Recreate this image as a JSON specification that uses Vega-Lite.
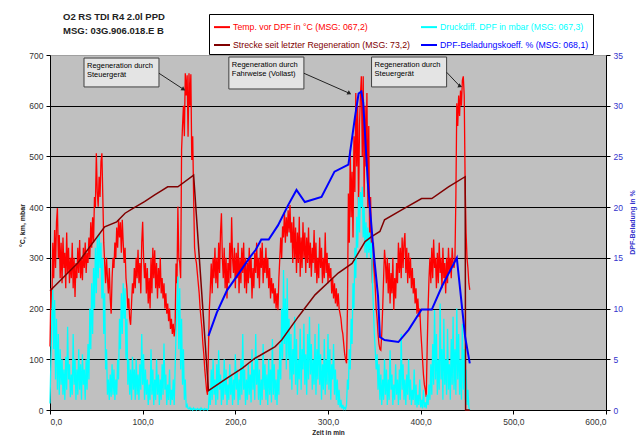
{
"$schema": "https://vega.github.io/schema/vega-lite/v6.json",
"width": 556, "height": 355,
"autosize": {"type": "none"},
"padding": {"left": 50, "top": 55, "right": 34, "bottom": 33},
"background": "white",
"config": {
 "view": {"fill": "#C0C0C0", "stroke": "#A0A0A0", "strokeWidth": 1},
 "font": "Liberation Sans",
 "axis": {"labelFont": "Liberation Sans", "titleFont": "Liberation Sans", "domainColor": "black", "tickColor": "black", "tickSize": 4, "labelFontSize": 8.5, "labelColor": "#333333", "titleFontSize": 7, "titleFontWeight": "bold", "titleColor": "#222222"}
},
"title": {"text": ["O2 RS TDI  R4 2.0l PPD", "MSG:  03G.906.018.E B"], "anchor": "start", "frame": "group", "dx": 13, "offset": -22, "fontSize": 9.5, "fontWeight": "bold", "lineHeight": 14, "color": "#222222", "font": "Liberation Sans"},
"datasets": {
 "temp": [{"t":0,"v":125},{"t":1,"v":240},{"t":2,"v":200},{"t":3,"v":330},{"t":4,"v":260},{"t":5,"v":355},{"t":6,"v":280},{"t":7,"v":370},{"t":8,"v":398},{"t":9,"v":300},{"t":10,"v":345},{"t":11,"v":260},{"t":12,"v":330},{"t":13,"v":250},{"t":14,"v":340},{"t":15,"v":280},{"t":16,"v":310},{"t":17,"v":240},{"t":18,"v":350},{"t":19,"v":270},{"t":20,"v":320},{"t":21,"v":250},{"t":22,"v":300},{"t":23,"v":260},{"t":24,"v":330},{"t":25,"v":240},{"t":26,"v":300},{"t":27,"v":223},{"t":28,"v":290},{"t":29,"v":260},{"t":30,"v":320},{"t":31,"v":270},{"t":32,"v":335},{"t":33,"v":260},{"t":34,"v":300},{"t":35,"v":256},{"t":36,"v":320},{"t":37,"v":280},{"t":38,"v":330},{"t":39,"v":270},{"t":40,"v":310},{"t":41,"v":290},{"t":42,"v":340},{"t":43,"v":300},{"t":44,"v":370},{"t":45,"v":320},{"t":46,"v":380},{"t":47,"v":330},{"t":48,"v":420},{"t":49,"v":400},{"t":50,"v":506},{"t":51,"v":430},{"t":52,"v":401},{"t":53,"v":460},{"t":54,"v":420},{"t":55,"v":490},{"t":56,"v":506},{"t":57,"v":420},{"t":58,"v":330},{"t":59,"v":290},{"t":60,"v":250},{"t":61,"v":300},{"t":62,"v":260},{"t":63,"v":230},{"t":64,"v":280},{"t":65,"v":220},{"t":66,"v":190},{"t":67,"v":260},{"t":68,"v":300},{"t":69,"v":280},{"t":70,"v":330},{"t":71,"v":300},{"t":72,"v":360},{"t":73,"v":320},{"t":74,"v":375},{"t":75,"v":340},{"t":76,"v":370},{"t":77,"v":310},{"t":78,"v":375},{"t":79,"v":330},{"t":80,"v":290},{"t":81,"v":320},{"t":82,"v":260},{"t":83,"v":240},{"t":84,"v":200},{"t":85,"v":220},{"t":86,"v":180},{"t":87,"v":168},{"t":88,"v":210},{"t":89,"v":250},{"t":90,"v":230},{"t":91,"v":280},{"t":92,"v":240},{"t":93,"v":300},{"t":94,"v":260},{"t":95,"v":316},{"t":96,"v":250},{"t":97,"v":290},{"t":98,"v":230},{"t":99,"v":330},{"t":100,"v":371},{"t":101,"v":300},{"t":102,"v":260},{"t":103,"v":290},{"t":104,"v":230},{"t":105,"v":280},{"t":106,"v":210},{"t":107,"v":260},{"t":108,"v":200},{"t":109,"v":300},{"t":110,"v":230},{"t":111,"v":320},{"t":112,"v":260},{"t":113,"v":315},{"t":114,"v":240},{"t":115,"v":290},{"t":116,"v":220},{"t":117,"v":280},{"t":118,"v":240},{"t":119,"v":300},{"t":120,"v":230},{"t":121,"v":260},{"t":122,"v":220},{"t":123,"v":250},{"t":124,"v":200},{"t":125,"v":230},{"t":126,"v":190},{"t":127,"v":210},{"t":128,"v":175},{"t":129,"v":200},{"t":130,"v":160},{"t":131,"v":180},{"t":132,"v":150},{"t":133,"v":170},{"t":134,"v":145},{"t":135,"v":160},{"t":136,"v":289},{"t":137,"v":250},{"t":138,"v":401},{"t":139,"v":300},{"t":140,"v":290},{"t":141,"v":260},{"t":142,"v":513},{"t":143,"v":560},{"t":144,"v":600},{"t":145,"v":540},{"t":146,"v":664},{"t":147,"v":620},{"t":148,"v":660},{"t":149,"v":539},{"t":150,"v":664},{"t":151,"v":600},{"t":152,"v":662},{"t":153,"v":493},{"t":154,"v":540},{"t":155,"v":420},{"t":156,"v":320},{"t":157,"v":300},{"t":158,"v":290},{"t":159,"v":270},{"t":160,"v":250},{"t":161,"v":230},{"t":162,"v":200},{"t":163,"v":180},{"t":164,"v":160},{"t":165,"v":130},{"t":166,"v":110},{"t":167,"v":80},{"t":168,"v":60},{"t":169,"v":39},{"t":170,"v":30},{"t":171,"v":120},{"t":172,"v":200},{"t":173,"v":240},{"t":174,"v":289},{"t":175,"v":230},{"t":176,"v":300},{"t":177,"v":260},{"t":178,"v":320},{"t":179,"v":250},{"t":180,"v":300},{"t":181,"v":240},{"t":182,"v":330},{"t":183,"v":270},{"t":184,"v":350},{"t":185,"v":388},{"t":186,"v":300},{"t":187,"v":260},{"t":188,"v":320},{"t":189,"v":240},{"t":190,"v":300},{"t":191,"v":220},{"t":192,"v":290},{"t":193,"v":250},{"t":194,"v":330},{"t":195,"v":260},{"t":196,"v":380},{"t":197,"v":300},{"t":198,"v":270},{"t":199,"v":320},{"t":200,"v":240},{"t":201,"v":310},{"t":202,"v":260},{"t":203,"v":330},{"t":204,"v":230},{"t":205,"v":300},{"t":206,"v":250},{"t":207,"v":320},{"t":208,"v":270},{"t":209,"v":330},{"t":210,"v":240},{"t":211,"v":300},{"t":212,"v":230},{"t":213,"v":290},{"t":214,"v":250},{"t":215,"v":320},{"t":216,"v":260},{"t":217,"v":300},{"t":218,"v":220},{"t":219,"v":280},{"t":220,"v":240},{"t":221,"v":310},{"t":222,"v":270},{"t":223,"v":330},{"t":224,"v":260},{"t":225,"v":300},{"t":226,"v":240},{"t":227,"v":320},{"t":228,"v":280},{"t":229,"v":330},{"t":230,"v":250},{"t":231,"v":300},{"t":232,"v":270},{"t":233,"v":320},{"t":234,"v":260},{"t":235,"v":300},{"t":236,"v":240},{"t":237,"v":280},{"t":238,"v":220},{"t":239,"v":260},{"t":240,"v":230},{"t":241,"v":250},{"t":242,"v":210},{"t":243,"v":240},{"t":244,"v":200},{"t":245,"v":230},{"t":246,"v":197},{"t":247,"v":260},{"t":248,"v":300},{"t":249,"v":340},{"t":250,"v":300},{"t":251,"v":362},{"t":252,"v":340},{"t":253,"v":390},{"t":254,"v":330},{"t":255,"v":380},{"t":256,"v":342},{"t":257,"v":394},{"t":258,"v":350},{"t":259,"v":404},{"t":260,"v":330},{"t":261,"v":370},{"t":262,"v":290},{"t":263,"v":381},{"t":264,"v":300},{"t":265,"v":360},{"t":266,"v":270},{"t":267,"v":350},{"t":268,"v":290},{"t":269,"v":381},{"t":270,"v":263},{"t":271,"v":340},{"t":272,"v":280},{"t":273,"v":370},{"t":274,"v":300},{"t":275,"v":350},{"t":276,"v":270},{"t":277,"v":340},{"t":278,"v":290},{"t":279,"v":360},{"t":280,"v":280},{"t":281,"v":330},{"t":282,"v":263},{"t":283,"v":320},{"t":284,"v":290},{"t":285,"v":355},{"t":286,"v":270},{"t":287,"v":330},{"t":288,"v":250},{"t":289,"v":300},{"t":290,"v":260},{"t":291,"v":340},{"t":292,"v":280},{"t":293,"v":320},{"t":294,"v":250},{"t":295,"v":300},{"t":296,"v":260},{"t":297,"v":350},{"t":298,"v":270},{"t":299,"v":310},{"t":300,"v":250},{"t":301,"v":290},{"t":302,"v":260},{"t":303,"v":280},{"t":304,"v":230},{"t":305,"v":260},{"t":306,"v":220},{"t":307,"v":250},{"t":308,"v":210},{"t":309,"v":240},{"t":310,"v":204},{"t":311,"v":230},{"t":312,"v":200},{"t":313,"v":190},{"t":314,"v":180},{"t":315,"v":160},{"t":316,"v":150},{"t":317,"v":130},{"t":318,"v":110},{"t":319,"v":100},{"t":320,"v":92},{"t":321,"v":200},{"t":322,"v":427},{"t":323,"v":330},{"t":324,"v":513},{"t":325,"v":380},{"t":326,"v":470},{"t":327,"v":340},{"t":328,"v":540},{"t":329,"v":430},{"t":330,"v":625},{"t":331,"v":480},{"t":332,"v":600},{"t":333,"v":394},{"t":334,"v":560},{"t":335,"v":620},{"t":336,"v":658},{"t":337,"v":500},{"t":338,"v":658},{"t":339,"v":420},{"t":340,"v":600},{"t":341,"v":480},{"t":342,"v":625},{"t":343,"v":400},{"t":344,"v":560},{"t":345,"v":316},{"t":346,"v":420},{"t":347,"v":300},{"t":348,"v":250},{"t":349,"v":330},{"t":350,"v":280},{"t":351,"v":240},{"t":352,"v":200},{"t":353,"v":180},{"t":354,"v":150},{"t":355,"v":130},{"t":356,"v":120},{"t":357,"v":118},{"t":358,"v":150},{"t":359,"v":200},{"t":360,"v":260},{"t":361,"v":316},{"t":362,"v":290},{"t":363,"v":250},{"t":364,"v":300},{"t":365,"v":230},{"t":366,"v":290},{"t":367,"v":210},{"t":368,"v":270},{"t":369,"v":230},{"t":370,"v":300},{"t":371,"v":197},{"t":372,"v":260},{"t":373,"v":220},{"t":374,"v":290},{"t":375,"v":250},{"t":376,"v":330},{"t":377,"v":270},{"t":378,"v":320},{"t":379,"v":260},{"t":380,"v":340},{"t":381,"v":280},{"t":382,"v":330},{"t":383,"v":349},{"t":384,"v":270},{"t":385,"v":320},{"t":386,"v":250},{"t":387,"v":310},{"t":388,"v":260},{"t":389,"v":300},{"t":390,"v":240},{"t":391,"v":280},{"t":392,"v":230},{"t":393,"v":260},{"t":394,"v":210},{"t":395,"v":240},{"t":396,"v":190},{"t":397,"v":220},{"t":398,"v":184},{"t":399,"v":200},{"t":400,"v":160},{"t":401,"v":130},{"t":402,"v":100},{"t":403,"v":70},{"t":404,"v":50},{"t":405,"v":40},{"t":406,"v":26},{"t":407,"v":120},{"t":408,"v":200},{"t":409,"v":260},{"t":410,"v":300},{"t":411,"v":250},{"t":412,"v":320},{"t":413,"v":260},{"t":414,"v":336},{"t":415,"v":280},{"t":416,"v":300},{"t":417,"v":240},{"t":418,"v":310},{"t":419,"v":250},{"t":420,"v":330},{"t":421,"v":270},{"t":422,"v":300},{"t":423,"v":240},{"t":424,"v":320},{"t":425,"v":260},{"t":426,"v":290},{"t":427,"v":230},{"t":428,"v":300},{"t":429,"v":250},{"t":430,"v":320},{"t":431,"v":270},{"t":432,"v":300},{"t":433,"v":260},{"t":434,"v":320},{"t":435,"v":290},{"t":436,"v":280},{"t":437,"v":300},{"t":438,"v":420},{"t":439,"v":605},{"t":440,"v":560},{"t":441,"v":620},{"t":442,"v":580},{"t":443,"v":630},{"t":444,"v":600},{"t":445,"v":650},{"t":446,"v":658},{"t":447,"v":620},{"t":448,"v":447},{"t":449,"v":350},{"t":450,"v":300},{"t":451,"v":280},{"t":452,"v":250},{"t":453,"v":237}],
 "druck": [{"t":0,"v":13},{"t":1,"v":100},{"t":2,"v":180},{"t":3,"v":237},{"t":4,"v":120},{"t":5,"v":217},{"t":6,"v":60},{"t":7,"v":180},{"t":8,"v":40},{"t":9,"v":150},{"t":10,"v":30},{"t":11,"v":120},{"t":12,"v":50},{"t":13,"v":100},{"t":14,"v":30},{"t":15,"v":80},{"t":16,"v":20},{"t":17,"v":105},{"t":18,"v":40},{"t":19,"v":164},{"t":20,"v":60},{"t":21,"v":90},{"t":22,"v":25},{"t":23,"v":70},{"t":24,"v":30},{"t":25,"v":150},{"t":26,"v":50},{"t":27,"v":100},{"t":28,"v":20},{"t":29,"v":80},{"t":30,"v":30},{"t":31,"v":120},{"t":32,"v":40},{"t":33,"v":90},{"t":34,"v":20},{"t":35,"v":110},{"t":36,"v":50},{"t":37,"v":80},{"t":38,"v":20},{"t":39,"v":100},{"t":40,"v":40},{"t":41,"v":130},{"t":42,"v":60},{"t":43,"v":200},{"t":44,"v":120},{"t":45,"v":250},{"t":46,"v":150},{"t":47,"v":280},{"t":48,"v":200},{"t":49,"v":320},{"t":50,"v":230},{"t":51,"v":340},{"t":52,"v":260},{"t":53,"v":348},{"t":54,"v":280},{"t":55,"v":330},{"t":56,"v":220},{"t":57,"v":300},{"t":58,"v":150},{"t":59,"v":230},{"t":60,"v":80},{"t":61,"v":120},{"t":62,"v":30},{"t":63,"v":60},{"t":64,"v":20},{"t":65,"v":70},{"t":66,"v":26},{"t":67,"v":90},{"t":68,"v":30},{"t":69,"v":80},{"t":70,"v":20},{"t":71,"v":60},{"t":72,"v":30},{"t":73,"v":100},{"t":74,"v":60},{"t":75,"v":180},{"t":76,"v":120},{"t":77,"v":230},{"t":78,"v":150},{"t":79,"v":250},{"t":80,"v":180},{"t":81,"v":240},{"t":82,"v":100},{"t":83,"v":180},{"t":84,"v":50},{"t":85,"v":100},{"t":86,"v":30},{"t":87,"v":80},{"t":88,"v":20},{"t":89,"v":105},{"t":90,"v":40},{"t":91,"v":80},{"t":92,"v":20},{"t":93,"v":100},{"t":94,"v":30},{"t":95,"v":70},{"t":96,"v":20},{"t":97,"v":90},{"t":98,"v":40},{"t":99,"v":150},{"t":100,"v":50},{"t":101,"v":110},{"t":102,"v":20},{"t":103,"v":80},{"t":104,"v":30},{"t":105,"v":60},{"t":106,"v":10},{"t":107,"v":50},{"t":108,"v":20},{"t":109,"v":120},{"t":110,"v":30},{"t":111,"v":80},{"t":112,"v":10},{"t":113,"v":60},{"t":114,"v":20},{"t":115,"v":100},{"t":116,"v":30},{"t":117,"v":70},{"t":118,"v":10},{"t":119,"v":60},{"t":120,"v":20},{"t":121,"v":90},{"t":122,"v":30},{"t":123,"v":131},{"t":124,"v":40},{"t":125,"v":70},{"t":126,"v":10},{"t":127,"v":50},{"t":128,"v":20},{"t":129,"v":80},{"t":130,"v":10},{"t":131,"v":40},{"t":132,"v":20},{"t":133,"v":60},{"t":134,"v":10},{"t":135,"v":80},{"t":136,"v":150},{"t":137,"v":200},{"t":138,"v":263},{"t":139,"v":120},{"t":140,"v":240},{"t":141,"v":80},{"t":142,"v":180},{"t":143,"v":50},{"t":144,"v":120},{"t":145,"v":20},{"t":146,"v":60},{"t":147,"v":5},{"t":148,"v":10},{"t":149,"v":3},{"t":150,"v":2},{"t":151,"v":5},{"t":152,"v":1},{"t":153,"v":3},{"t":154,"v":0},{"t":155,"v":4},{"t":156,"v":1},{"t":157,"v":2},{"t":158,"v":0},{"t":159,"v":3},{"t":160,"v":1},{"t":161,"v":2},{"t":162,"v":0},{"t":163,"v":4},{"t":164,"v":1},{"t":165,"v":2},{"t":166,"v":0},{"t":167,"v":3},{"t":168,"v":1},{"t":169,"v":2},{"t":170,"v":0},{"t":171,"v":3},{"t":172,"v":40},{"t":173,"v":10},{"t":174,"v":80},{"t":175,"v":20},{"t":176,"v":100},{"t":177,"v":30},{"t":178,"v":60},{"t":179,"v":10},{"t":180,"v":90},{"t":181,"v":20},{"t":182,"v":118},{"t":183,"v":40},{"t":184,"v":70},{"t":185,"v":10},{"t":186,"v":60},{"t":187,"v":20},{"t":188,"v":100},{"t":189,"v":30},{"t":190,"v":80},{"t":191,"v":10},{"t":192,"v":50},{"t":193,"v":20},{"t":194,"v":90},{"t":195,"v":30},{"t":196,"v":70},{"t":197,"v":10},{"t":198,"v":60},{"t":199,"v":20},{"t":200,"v":110},{"t":201,"v":40},{"t":202,"v":80},{"t":203,"v":10},{"t":204,"v":60},{"t":205,"v":20},{"t":206,"v":100},{"t":207,"v":30},{"t":208,"v":150},{"t":209,"v":40},{"t":210,"v":80},{"t":211,"v":10},{"t":212,"v":60},{"t":213,"v":20},{"t":214,"v":90},{"t":215,"v":30},{"t":216,"v":70},{"t":217,"v":15},{"t":218,"v":120},{"t":219,"v":40},{"t":220,"v":80},{"t":221,"v":20},{"t":222,"v":150},{"t":223,"v":50},{"t":224,"v":100},{"t":225,"v":20},{"t":226,"v":80},{"t":227,"v":10},{"t":228,"v":60},{"t":229,"v":20},{"t":230,"v":130},{"t":231,"v":40},{"t":232,"v":90},{"t":233,"v":20},{"t":234,"v":70},{"t":235,"v":10},{"t":236,"v":100},{"t":237,"v":30},{"t":238,"v":80},{"t":239,"v":15},{"t":240,"v":140},{"t":241,"v":30},{"t":242,"v":90},{"t":243,"v":20},{"t":244,"v":60},{"t":245,"v":10},{"t":246,"v":80},{"t":247,"v":30},{"t":248,"v":130},{"t":249,"v":60},{"t":250,"v":200},{"t":251,"v":100},{"t":252,"v":276},{"t":253,"v":130},{"t":254,"v":220},{"t":255,"v":80},{"t":256,"v":260},{"t":257,"v":100},{"t":258,"v":180},{"t":259,"v":60},{"t":260,"v":150},{"t":261,"v":40},{"t":262,"v":120},{"t":263,"v":70},{"t":264,"v":184},{"t":265,"v":50},{"t":266,"v":140},{"t":267,"v":30},{"t":268,"v":100},{"t":269,"v":60},{"t":270,"v":160},{"t":271,"v":40},{"t":272,"v":120},{"t":273,"v":80},{"t":274,"v":170},{"t":275,"v":50},{"t":276,"v":110},{"t":277,"v":30},{"t":278,"v":150},{"t":279,"v":60},{"t":280,"v":184},{"t":281,"v":70},{"t":282,"v":130},{"t":283,"v":40},{"t":284,"v":100},{"t":285,"v":50},{"t":286,"v":150},{"t":287,"v":30},{"t":288,"v":120},{"t":289,"v":60},{"t":290,"v":170},{"t":291,"v":50},{"t":292,"v":110},{"t":293,"v":20},{"t":294,"v":90},{"t":295,"v":40},{"t":296,"v":140},{"t":297,"v":30},{"t":298,"v":100},{"t":299,"v":50},{"t":300,"v":150},{"t":301,"v":40},{"t":302,"v":120},{"t":303,"v":20},{"t":304,"v":90},{"t":305,"v":60},{"t":306,"v":130},{"t":307,"v":30},{"t":308,"v":80},{"t":309,"v":20},{"t":310,"v":60},{"t":311,"v":10},{"t":312,"v":40},{"t":313,"v":5},{"t":314,"v":20},{"t":315,"v":3},{"t":316,"v":10},{"t":317,"v":2},{"t":318,"v":5},{"t":319,"v":2},{"t":320,"v":10},{"t":321,"v":60},{"t":322,"v":40},{"t":323,"v":120},{"t":324,"v":80},{"t":325,"v":180},{"t":326,"v":130},{"t":327,"v":250},{"t":328,"v":200},{"t":329,"v":320},{"t":330,"v":260},{"t":331,"v":381},{"t":332,"v":320},{"t":333,"v":420},{"t":334,"v":350},{"t":335,"v":430},{"t":336,"v":400},{"t":337,"v":440},{"t":338,"v":340},{"t":339,"v":400},{"t":340,"v":310},{"t":341,"v":370},{"t":342,"v":300},{"t":343,"v":360},{"t":344,"v":310},{"t":345,"v":350},{"t":346,"v":300},{"t":347,"v":330},{"t":348,"v":250},{"t":349,"v":200},{"t":350,"v":150},{"t":351,"v":118},{"t":352,"v":80},{"t":353,"v":110},{"t":354,"v":40},{"t":355,"v":90},{"t":356,"v":20},{"t":357,"v":70},{"t":358,"v":10},{"t":359,"v":60},{"t":360,"v":20},{"t":361,"v":100},{"t":362,"v":30},{"t":363,"v":80},{"t":364,"v":10},{"t":365,"v":60},{"t":366,"v":20},{"t":367,"v":118},{"t":368,"v":40},{"t":369,"v":70},{"t":370,"v":10},{"t":371,"v":50},{"t":372,"v":20},{"t":373,"v":90},{"t":374,"v":30},{"t":375,"v":60},{"t":376,"v":10},{"t":377,"v":80},{"t":378,"v":20},{"t":379,"v":150},{"t":380,"v":40},{"t":381,"v":90},{"t":382,"v":20},{"t":383,"v":60},{"t":384,"v":10},{"t":385,"v":70},{"t":386,"v":30},{"t":387,"v":100},{"t":388,"v":20},{"t":389,"v":60},{"t":390,"v":10},{"t":391,"v":40},{"t":392,"v":20},{"t":393,"v":80},{"t":394,"v":10},{"t":395,"v":50},{"t":396,"v":5},{"t":397,"v":30},{"t":398,"v":10},{"t":399,"v":60},{"t":400,"v":5},{"t":401,"v":20},{"t":402,"v":3},{"t":403,"v":40},{"t":404,"v":5},{"t":405,"v":15},{"t":406,"v":3},{"t":407,"v":30},{"t":408,"v":10},{"t":409,"v":50},{"t":410,"v":20},{"t":411,"v":90},{"t":412,"v":30},{"t":413,"v":130},{"t":414,"v":50},{"t":415,"v":197},{"t":416,"v":60},{"t":417,"v":150},{"t":418,"v":30},{"t":419,"v":100},{"t":420,"v":40},{"t":421,"v":210},{"t":422,"v":60},{"t":423,"v":120},{"t":424,"v":20},{"t":425,"v":180},{"t":426,"v":50},{"t":427,"v":100},{"t":428,"v":30},{"t":429,"v":160},{"t":430,"v":40},{"t":431,"v":90},{"t":432,"v":20},{"t":433,"v":140},{"t":434,"v":50},{"t":435,"v":184},{"t":436,"v":40},{"t":437,"v":120},{"t":438,"v":30},{"t":439,"v":200},{"t":440,"v":60},{"t":441,"v":150},{"t":442,"v":30},{"t":443,"v":100},{"t":444,"v":20},{"t":445,"v":170},{"t":446,"v":40},{"t":447,"v":120},{"t":448,"v":20},{"t":449,"v":80},{"t":450,"v":10},{"t":451,"v":40},{"t":452,"v":5},{"t":453,"v":0}],
 "strecke": [{"t":0,"v":235},{"t":30,"v":290},{"t":59,"v":361},{"t":72,"v":371},{"t":81,"v":388},{"t":90,"v":398},{"t":102,"v":411},{"t":113,"v":424},{"t":120,"v":432},{"t":127,"v":440},{"t":138,"v":440},{"t":155,"v":463},{"t":171,"v":38},{"t":191,"v":63},{"t":208,"v":83},{"t":221,"v":102},{"t":227,"v":108},{"t":243,"v":125},{"t":250,"v":138},{"t":268,"v":184},{"t":286,"v":227},{"t":311,"v":270},{"t":326,"v":289},{"t":340,"v":332},{"t":347,"v":342},{"t":356,"v":352},{"t":361,"v":375},{"t":380,"v":395},{"t":401,"v":417},{"t":412,"v":417},{"t":430,"v":440},{"t":448,"v":460},{"t":448.5,"v":0},{"t":453,"v":0}],
 "bel": [{"t":171,"p":7.3},{"t":180,"p":9.6},{"t":191,"p":11.8},{"t":201,"p":13.1},{"t":216,"p":15.1},{"t":222,"p":15.8},{"t":228,"p":16.8},{"t":236,"p":16.8},{"t":246,"p":18.2},{"t":257,"p":20.2},{"t":266,"p":21.7},{"t":275,"p":20.5},{"t":293,"p":21.0},{"t":307,"p":23.5},{"t":322,"p":24.2},{"t":329,"p":28.8},{"t":333,"p":31.2},{"t":336,"p":31.4},{"t":338,"p":30.3},{"t":343,"p":22.4},{"t":349,"p":15.8},{"t":354,"p":11.2},{"t":356,"p":7.2},{"t":361,"p":6.9},{"t":376,"p":6.7},{"t":387,"p":7.9},{"t":401,"p":9.9},{"t":412,"p":9.9},{"t":423,"p":12.2},{"t":439,"p":15.0},{"t":448,"p":7.2},{"t":453,"p":4.6}],
 "ann": [
  {"id":1,"x1":36.7,"x2":117.6,"y1":637,"y2":694,"ax":117.6,"ay":664,"bx":143.5,"by":633,"txt":"Regeneration durch\nSteuergerät"},
  {"id":2,"x1":193,"x2":274,"y1":633,"y2":696,"ax":274,"ay":664,"bx":322.5,"by":625,"txt":"Regeneration durch\nFahrweise (Vollast)"},
  {"id":3,"x1":347,"x2":428,"y1":637,"y2":696,"ax":428,"ay":666,"bx":442,"by":639,"txt":"Regeneration durch\nSteuergerät"}
 ]
},
"layer": [
 {"layer": [
  {"data": {"name": "temp"}, "mark": {"type": "line", "strokeWidth": 1.3},
   "encoding": {
    "x": {"field": "t", "type": "quantitative", "title": "Zeit in min", "scale": {"domain": [0, 600], "nice": false},
      "axis": {"values": [0,100,200,300,400,500,600], "labelExpr": "replace(format(datum.value, '.1f'), '.', ',')", "grid": false, "titleFontSize": 6.5, "titlePadding": 4, "labelPadding": 3}},
    "y": {"field": "v", "type": "quantitative", "title": "°C, km, mbar", "scale": {"domain": [0, 700], "nice": false},
      "axis": {"values": [0,100,200,300,400,500,600,700], "grid": true, "gridColor": {"condition": {"test": "datum.value === 700", "value": "#A0A0A0"}, "value": "black"}, "gridOpacity": 1, "gridWidth": 1, "labelPadding": 3, "titleX": -28, "titleY": 170, "titleAngle": -90, "titleBaseline": "middle", "titleAlign": "center"}},
    "color": {"datum": "Temp. vor DPF in °C (MSG: 067,2)",
      "scale": {"domain": ["Temp. vor DPF in °C (MSG: 067,2)", "Strecke seit letzter Regeneration (MSG: 73,2)", "Druckdiff. DPF in mbar (MSG: 067,3)", "DPF-Beladungskoeff. % (MSG: 068,1)"], "range": ["#FF0000", "#800000", "#00FFFF", "#0000FF"]},
      "legend": {"orient": "none", "legendX": 159, "legendY": -41, "columns": 2, "title": null, "fillColor": "white", "strokeColor": "black", "padding": 4, "rowPadding": 4, "columnPadding": 6, "symbolType": "stroke", "symbolSize": 256, "symbolStrokeWidth": 2, "labelFontSize": 8.75, "labelFont": "Liberation Sans", "labelLimit": 300, "labelOffset": 2,
        "encode": {"labels": {"update": {"fill": {"signal": "scale('color', datum.value)"}}}}}}
   }},
  {"data": {"name": "druck"}, "mark": {"type": "line", "strokeWidth": 1.3},
   "encoding": {"x": {"field": "t", "type": "quantitative", "title": "Zeit in min"}, "y": {"field": "v", "type": "quantitative", "title": "°C, km, mbar"}, "color": {"datum": "Druckdiff. DPF in mbar (MSG: 067,3)"}}},
  {"data": {"name": "strecke"}, "mark": {"type": "line", "strokeWidth": 1.5},
   "encoding": {"x": {"field": "t", "type": "quantitative", "title": "Zeit in min"}, "y": {"field": "v", "type": "quantitative", "title": "°C, km, mbar"}, "color": {"datum": "Strecke seit letzter Regeneration (MSG: 73,2)"}}},
  {"data": {"name": "ann"}, "mark": {"type": "rect", "fill": "#E4E4E4", "stroke": "#404040", "strokeWidth": 1},
   "encoding": {"x": {"field": "x1", "type": "quantitative", "title": "Zeit in min"}, "x2": {"field": "x2"}, "y": {"field": "y1", "type": "quantitative", "title": "°C, km, mbar"}, "y2": {"field": "y2"}}},
  {"data": {"name": "ann"}, "mark": {"type": "text", "align": "left", "baseline": "top", "dx": 3, "dy": 4, "fontSize": 7.5, "lineBreak": "\n", "lineHeight": 9, "color": "black", "font": "Liberation Sans"},
   "encoding": {"x": {"field": "x1", "type": "quantitative", "title": "Zeit in min"}, "y": {"field": "y2", "type": "quantitative", "title": "°C, km, mbar"}, "text": {"field": "txt"}}},
  {"data": {"name": "ann"}, "mark": {"type": "rule", "color": "#222222", "strokeWidth": 1},
   "encoding": {"x": {"field": "ax", "type": "quantitative", "title": "Zeit in min"}, "y": {"field": "ay", "type": "quantitative", "title": "°C, km, mbar"}, "x2": {"field": "bx"}, "y2": {"field": "by"}}},
  {"data": {"name": "ann"}, "mark": {"type": "point", "shape": "triangle", "filled": true, "size": 22, "color": "#222222", "opacity": 1},
   "encoding": {"x": {"field": "bx", "type": "quantitative", "title": "Zeit in min"}, "y": {"field": "by", "type": "quantitative", "title": "°C, km, mbar"}, "angle": {"field": "id", "type": "ordinal", "scale": {"domain": [1,2,3], "range": [124,114,137]}, "legend": null}}}
 ]},
 {"data": {"name": "bel"}, "mark": {"type": "line", "strokeWidth": 2},
  "encoding": {
   "x": {"field": "t", "type": "quantitative", "title": "Zeit in min"},
   "y": {"field": "p", "type": "quantitative", "title": "DPF-Beladung in %", "scale": {"domain": [0, 35], "nice": false},
     "axis": {"orient": "right", "values": [0,5,10,15,20,25,30,35], "grid": false, "labelColor": "#3333CC", "titleColor": "#3333CC", "labelPadding": 3, "titleX": 26, "titleY": 167, "titleAngle": -90, "titleBaseline": "middle", "titleAlign": "center"}},
   "color": {"datum": "DPF-Beladungskoeff. % (MSG: 068,1)"}
  }}
],
"resolve": {"scale": {"y": "independent"}}
}
